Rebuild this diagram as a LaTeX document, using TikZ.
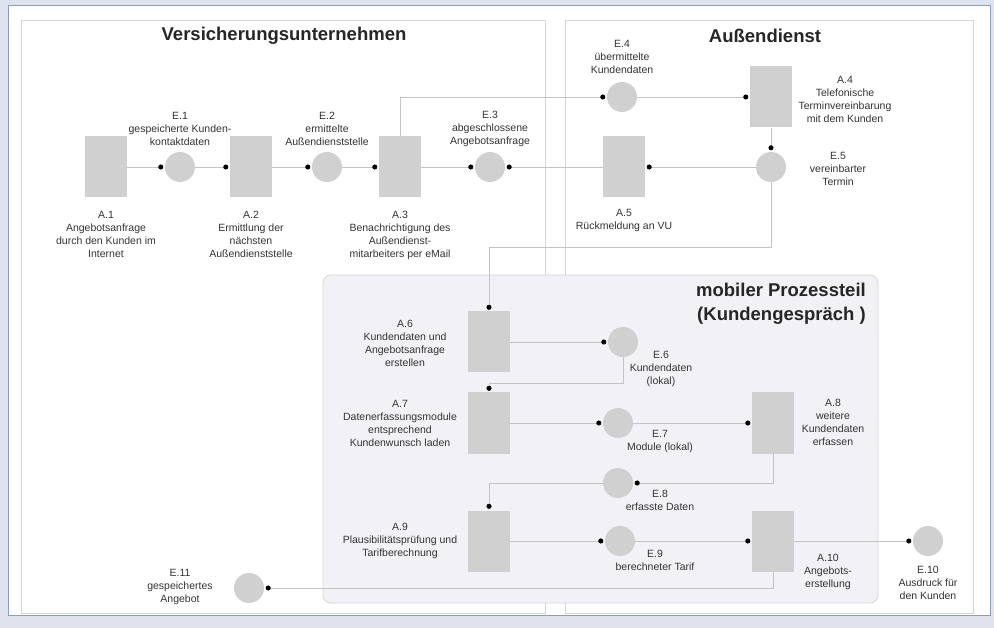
\documentclass[tikz,border=0pt]{standalone}
\usepackage{fontspec}
\setmainfont{Liberation Sans}
\usetikzlibrary{arrows.meta}
\definecolor{frameBlue}{HTML}{8A9CC0}
\definecolor{outerBlue}{HTML}{DFE3EE}
\definecolor{boxGrey}{HTML}{D0D0D0}
\definecolor{flowGrey}{HTML}{C4C4C4}
\definecolor{laneGrey}{HTML}{D6D6D6}
\definecolor{mobileFill}{HTML}{F2F1F6}

\begin{document}
\begin{tikzpicture}
[x=1pt,y=-1pt,
  taskDecorate/.style={shape=rectangle,fill=boxGrey,minimum width=42pt,minimum height=61pt,inner sep=0pt},
  eventDecorate/.style={shape=circle,fill=boxGrey,minimum size=30pt,inner sep=0pt},
  textDecorate/.style={align=center,font=\fontsize{10.5}{13}\selectfont,text=black!80,inner sep=0pt},
  titleDecorate/.style={font=\fontsize{18.5}{24}\selectfont\bfseries,text=black!85,inner sep=0pt},
  flowDecorate/.style={draw=flowGrey,line width=0.8pt,shorten >=1.5pt,-{Circle[length=5pt,color=black,fill=black]}},
  laneDecorate/.style={draw=laneGrey,line width=0.8pt}]
\fill[outerBlue] (0,0) rectangle (994,628);
\useasboundingbox (0,0) rectangle (994,628);
\draw[frameBlue,fill=white,line width=1pt] (8,6) rectangle (990,615);
%% lanes
\draw[laneDecorate] (21,20) rectangle (545,613);
\draw[laneDecorate] (565,20) rectangle (973,613);
\draw[laneDecorate,fill=mobileFill,rounded corners=8pt] (323,275) rectangle (878,603);
\node[titleDecorate] (vuTitle) at (284,36) {Versicherungsunternehmen};
\node[titleDecorate] (adTitle) at (765,36) {Außendienst};
\node[titleDecorate,align=right,anchor=east] (mobTitle) at (866,304) {mobiler Prozessteil\\(Kundengespräch )};
%% activities
\foreach \nodename/\x/\y in {
  A1/106/167, A2/251/167, A3/400/167, A5/624/167, A4/771/97,
  A6/489/342, A7/489/423, A8/773/423, A9/489/541, A10/773/541}
{
  \node (\nodename) at (\x,\y) [taskDecorate] {};
}
%% events
\foreach \nodename/\x/\y in {
  E1/180/167, E2/327/167, E3/490/167, E4/622/97, E5/771/167,
  E6/623/342, E7/618/423, E8/618/483, E9/620/541, E10/928/541,
  E11/249/588}
{
  \node (\nodename) at (\x,\y) [eventDecorate] {};
}
%% texts
\foreach \nodename/\x/\y/\txt in {
  A1l/106/234/{A.1\\Angebotsanfrage\\durch den Kunden im\\Internet},
  A2l/251/234/{A.2\\Ermittlung der\\nächsten\\Außendienststelle},
  A3l/400/235/{A.3\\Benachrichtigung des\\Außendienst-\\mitarbeiters per eMail},
  A5l/624/220/{A.5\\Rückmeldung an VU},
  E1l/180/129/{E.1\\gespeicherte Kunden-\\kontaktdaten},
  E2l/327/129/{E.2\\ermittelte\\Außendienststelle},
  E3l/490/129/{E.3\\abgeschlossene\\Angebotsanfrage},
  E4l/622/57/{E.4\\übermittelte\\Kundendaten},
  A4l/845/99/{A.4\\Telefonische\\Terminvereinbarung\\mit dem Kunden},
  E5l/838/169/{E.5\\vereinbarter\\Termin},
  A6l/405/343/{A.6\\Kundendaten und\\Angebotsanfrage\\erstellen},
  A7l/400/423/{A.7\\Datenerfassungsmodule\\entsprechend\\Kundenwunsch laden},
  E6l/661/369/{E.6\\Kundendaten\\(lokal)},
  E7l/660/441/{E.7\\Module (lokal)},
  A8l/833/422/{A.8\\weitere\\Kundendaten\\erfassen},
  E8l/660/500/{E.8\\erfasste Daten},
  A9l/400/541/{A.9\\Plausibilitätsprüfung und\\Tarifberechnung},
  E9l/655/560/{E.9\\berechneter Tarif},
  A10l/828/572/{A.10\\Angebots-\\erstellung},
  E10l/928/583/{E.10\\Ausdruck für\\den Kunden},
  E11l/180/587/{E.11\\gespeichertes\\Angebot}}
{
  \node (\nodename) at (\x,\y) [textDecorate] {\txt};
}
%% flows
\path
\foreach \startnode/\endnode in {
  A1/E1, E1/A2, A2/E2, E2/A3, A3/E3, A5/E3, E5/A5, E4/A4, A4/E5,
  A6/E6, A7/E7, E7/A8, A9/E9, E9/A10, A10/E10}
{
  (\startnode) edge[flowDecorate] (\endnode)
};
\draw[flowDecorate] (A3.north) |- (E4.west);
\draw[flowDecorate] (E5.south) -- (E5.south |- 0,247) -| (A6.north);
\draw[flowDecorate] (E6.south) -- (E6.south |- 0,383) -| (A7.north);
\draw[flowDecorate] (A8.south) |- (E8.east);
\draw[flowDecorate] (E8.west) -| (A9.north);
\draw[flowDecorate] (A10.south) |- (E11.east);
\end{tikzpicture}
\end{document}
